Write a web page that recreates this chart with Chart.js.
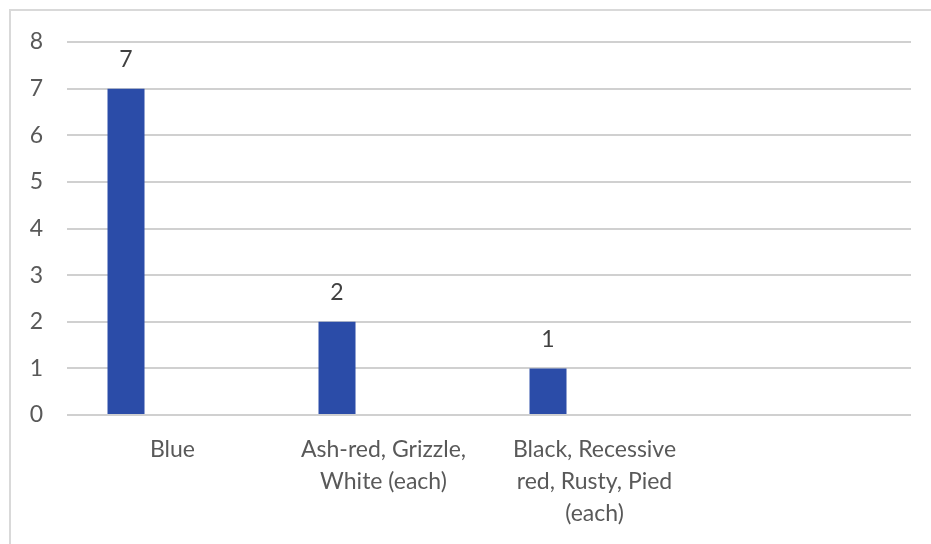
<!DOCTYPE html>
<html>
<head>
<meta charset="utf-8">
<style>
  html, body { margin: 0; padding: 0; background: #fff; }
  #wrap { width: 931px; height: 544px; }
</style>
<script src="https://cdn.jsdelivr.net/npm/chart.js@4/dist/chart.umd.min.js"></script>
</head>
<body>
<div id="wrap"><canvas id="chart"></canvas></div>
<script>
  const categories = [
    ['Blue'],
    ['Ash-red, Grizzle,', 'White (each)'],
    ['Black, Recessive', 'red, Rusty, Pied', '(each)'],
    ''
  ];
  const counts = [7, 2, 1, null];
  const emptyA = [null, null, null, null];
  const emptyB = [null, null, null, null];
  const yTicks = [0, 1, 2, 3, 4, 5, 6, 7, 8];

  const FONT = 'Lato, "Noto Sans", sans-serif';
  const SIZE = 23;

  // light frame around the chart, cut off on the right and bottom
  const framePlugin = {
    id: 'frame',
    beforeDraw(chart) {
      const ctx = chart.ctx;
      ctx.save();
      ctx.strokeStyle = '#d9d9d9';
      ctx.lineWidth = 2;
      ctx.strokeRect(10, 10, 1000, 1000);
      ctx.restore();
    }
  };

  // value labels above the bars
  const valueLabels = {
    id: 'valueLabels',
    afterDatasetsDraw(chart) {
      const ctx = chart.ctx;
      const meta = chart.getDatasetMeta(0);
      ctx.save();
      ctx.font = SIZE + 'px ' + FONT;
      ctx.fillStyle = '#404040';
      ctx.textAlign = 'center';
      ctx.textBaseline = 'middle';
      meta.data.forEach((bar, i) => {
        const v = counts[i];
        if (v == null) return;
        ctx.fillText(String(v), bar.x, bar.y - 29);
      });
      ctx.restore();
    }
  };

  new Chart(document.getElementById('chart'), {
    type: 'bar',
    data: {
      labels: categories,
      datasets: [
        { data: counts, backgroundColor: '#2b4ca8' },
        { data: emptyA, backgroundColor: '#2b4ca8' },
        { data: emptyB, backgroundColor: '#2b4ca8' }
      ]
    },
    options: {
      responsive: true,
      maintainAspectRatio: false,
      animation: false,
      categoryPercentage: 0.661,
      barPercentage: 0.796,
      layout: { padding: { top: 42, right: 20, left: 0, bottom: 0 } },
      plugins: {
        legend: { display: false },
        tooltip: { enabled: false }
      },
      scales: {
        x: {
          grid: { display: false },
          border: { display: false },
          ticks: {
            autoSkip: false,
            maxRotation: 0,
            color: '#595959',
            padding: 11,
            font: { family: FONT, size: SIZE, lineHeight: '32px' }
          },
          afterFit(scale) { scale.height = 129; }
        },
        y: {
          min: 0,
          max: 8,
          afterBuildTicks(scale) { scale.ticks = yTicks.map((v) => ({ value: v })); },
          grid: { color: '#d0d0d0', lineWidth: 2, drawTicks: false },
          border: { display: false },
          ticks: {
            color: '#595959',
            padding: 24,
            font: { family: FONT, size: SIZE }
          },
          afterFit(scale) { scale.width = 67; }
        }
      }
    },
    plugins: [framePlugin, valueLabels]
  });
</script>
</body>
</html>
